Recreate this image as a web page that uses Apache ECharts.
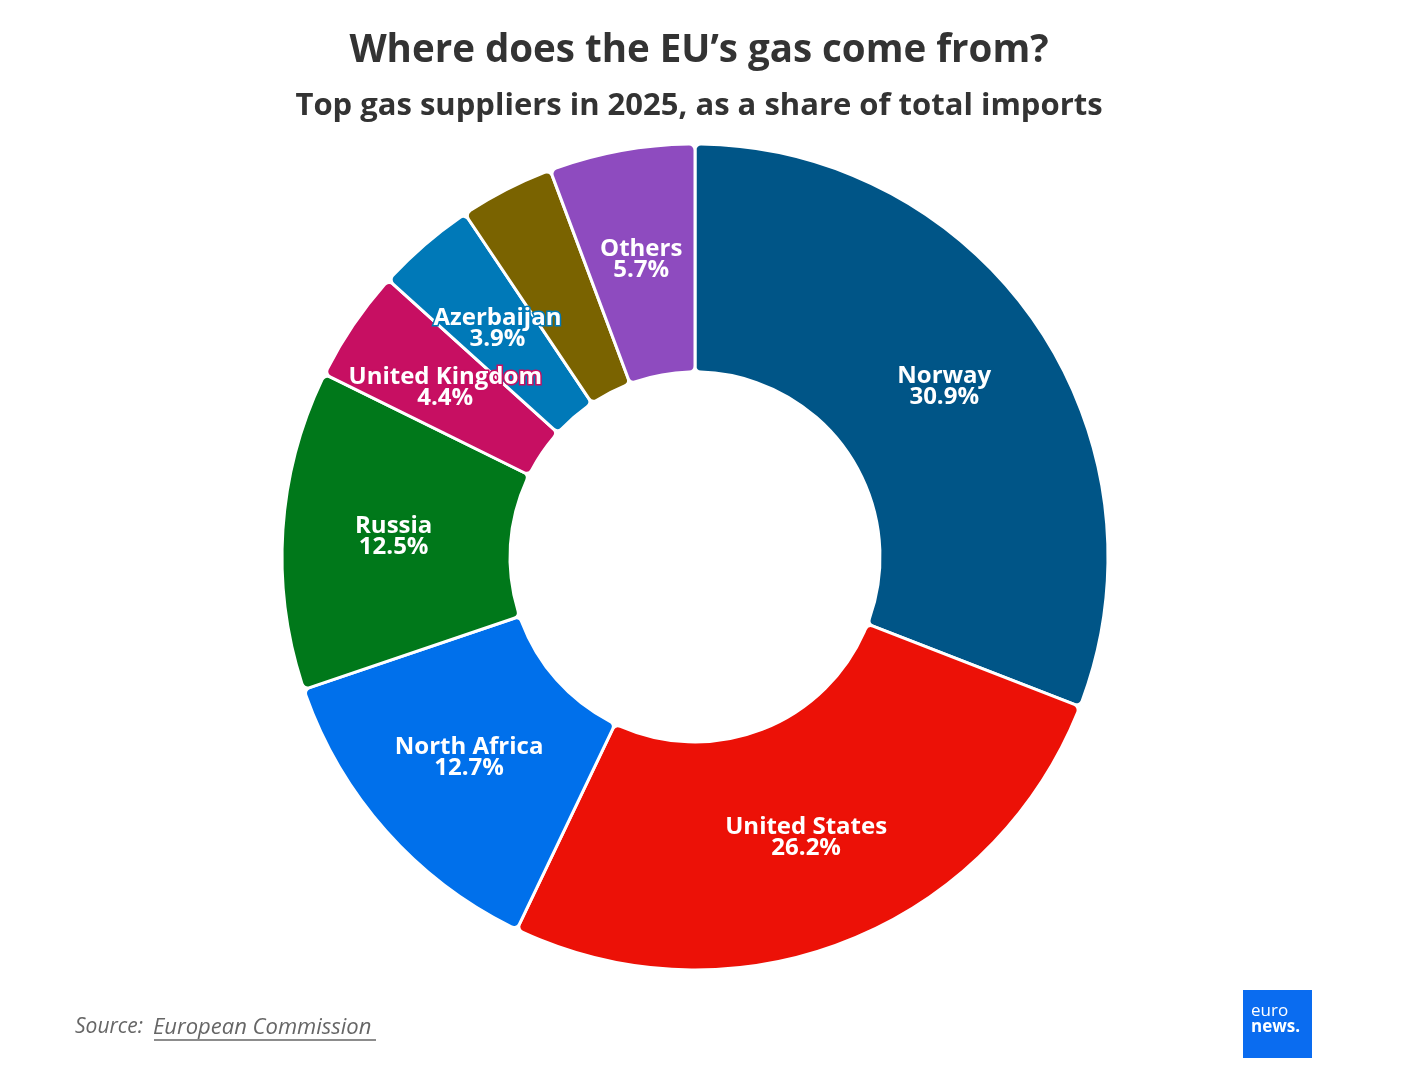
<!DOCTYPE html>
<html><head><meta charset="utf-8">
<script src="https://cdn.jsdelivr.net/npm/echarts@6/dist/echarts.min.js"></script>
<style>html,body{margin:0;padding:0;background:#fff}#c{width:1420px;height:1092px}</style>
</head><body><div id="c"></div>
<script>
const countries = ['Norway','United States','North Africa','Russia','United Kingdom','Azerbaijan','Qatar','Others'];
const shares = [30.9, 26.2, 12.7, 12.5, 4.4, 3.9, 3.7, 5.7];
const colors = ['#005587','#ec1107','#0070eb','#00781a','#c70f62','#0079b8','#7a6300','#8e4bbf'];
const showLabel = [true,true,true,true,true,true,false,true];

const chart = echarts.init(document.getElementById('c'));
const data = countries.map((n,i)=>({
  name:n, value:shares[i],
  itemStyle:{color:colors[i]},
  label:{show:showLabel[i], textBorderColor:colors[i]}
}));
chart.setOption({
  animation:false,
  title:[
    {text:'Where does the EU\u2019s gas come from?',left:694,textAlign:'center',top:27,
     textStyle:{fontFamily:'Open Sans',fontWeight:'bold',fontSize:38.5,color:'#333'}},
    {text:'Top gas suppliers in 2025, as a share of total imports',left:694,textAlign:'center',top:86,
     textStyle:{fontFamily:'Open Sans',fontWeight:'bold',fontSize:31,color:'#333'}}
  ],
  series:[{
    type:'pie',
    center:[695,557],
    radius:[185,413],
    startAngle:90,
    clockwise:true,
    avoidLabelOverlap:false,
    itemStyle:{borderColor:'#fff',borderWidth:3,borderRadius:6},
    label:{position:'inside',formatter:p=>p.name+'\n'+p.value.toFixed(1)+'%',
      color:'#fff',fontFamily:'Open Sans',fontWeight:'bold',fontSize:24,lineHeight:21,
      textBorderWidth:3},
    labelLine:{show:false},
    emphasis:{disabled:true},
    data:data
  }],
  graphic:[
    {type:'text',left:75,top:1017,style:{text:'Source:',font:'italic 21px "Open Sans"',fill:'#666'}},
    {type:'text',left:153,top:1017,style:{text:'European Commission',font:'italic 22px "Open Sans"',fill:'#666'}},
    {type:'line',shape:{x1:154,y1:1040,x2:376,y2:1040},style:{stroke:'#666',lineWidth:1.5}},
    {type:'rect',shape:{x:1243,y:990,width:69,height:68},style:{fill:'#0a6cf0'}},
    {type:'text',left:1251,top:1003,style:{text:'euro',font:'17px "Open Sans"',fill:'#fff'}},
    {type:'text',left:1251,top:1019,style:{text:'news.',font:'bold 17px "Open Sans"',fill:'#fff'}}
  ]
});
</script></body></html>
